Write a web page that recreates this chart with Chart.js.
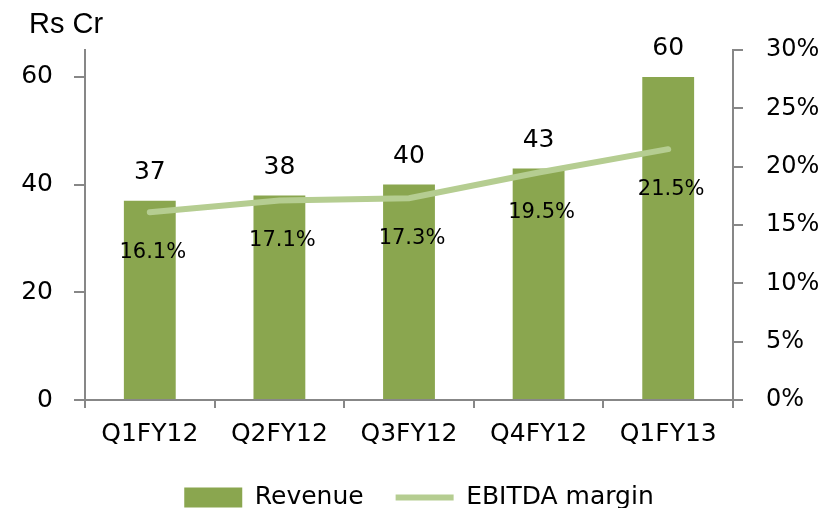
<!DOCTYPE html>
<html>
<head>
<meta charset="utf-8">
<script src="https://cdn.jsdelivr.net/npm/chart.js@4"></script>
<style>
  html, body { margin: 0; padding: 0; background: #fff; overflow: hidden; }
  #wrap { width: 838px; height: 508px; overflow: hidden; }
  #chart { display: block; }
</style>
</head>
<body>
<div id="wrap"><canvas id="chart" width="838" height="520"></canvas></div>
<script>
// data
const quarters = ['Q1FY12', 'Q2FY12', 'Q3FY12', 'Q4FY12', 'Q1FY13'];
const revenue = [37, 38, 40, 43, 60];          // Rs Cr
const ebitdaMargin = [16.1, 17.1, 17.3, 19.5, 21.5]; // %
const revenueTicks = [0, 20, 40, 60];

const BAR_COLOR = '#8AA64F';
const LINE_COLOR = '#B5CD91';
const AXIS_COLOR = '#878787';
const FONT = "'DejaVu Sans', Verdana, sans-serif";

// value labels: revenue above bars, margin below line points
const valueLabels = {
  id: 'valueLabels',
  afterDatasetsDraw(chart) {
    const ctx = chart.ctx;
    ctx.save();
    ctx.fillStyle = '#000';
    ctx.textAlign = 'center';
    ctx.textBaseline = 'middle';
    const bars = chart.getDatasetMeta(0).data;
    ctx.font = '25px ' + FONT;
    bars.forEach((el, i) => {
      ctx.fillText(String(revenue[i]), el.x, el.y - 28);
    });
    const pts = chart.getDatasetMeta(1).data;
    ctx.font = '21px ' + FONT;
    pts.forEach((el, i) => {
      ctx.fillText(ebitdaMargin[i].toFixed(1) + '%', el.x + 3, el.y + 40);
    });
    ctx.restore();
  }
};

// "Rs Cr" unit caption in the top-left corner
const unitCaption = {
  id: 'unitCaption',
  afterDraw(chart) {
    const ctx = chart.ctx;
    ctx.save();
    ctx.fillStyle = '#000';
    ctx.font = "29px 'Liberation Sans', Arial, sans-serif";
    ctx.textAlign = 'left';
    ctx.textBaseline = 'alphabetic';
    ctx.fillText('Rs Cr', 29, 33);
    ctx.restore();
  }
};

new Chart(document.getElementById('chart'), {
  data: {
    labels: quarters,
    datasets: [
      {
        type: 'bar',
        label: 'Revenue',
        data: revenue,
        yAxisID: 'y',
        backgroundColor: BAR_COLOR,
        borderWidth: 0,
        categoryPercentage: 1,
        barPercentage: 0.4,
        order: 2
      },
      {
        type: 'line',
        label: 'EBITDA margin',
        data: ebitdaMargin,
        yAxisID: 'y1',
        borderColor: LINE_COLOR,
        backgroundColor: LINE_COLOR,
        borderWidth: 6,
        borderCapStyle: 'round',
        pointRadius: 0,
        tension: 0,
        order: 1
      }
    ]
  },
  options: {
    responsive: false,
    animation: false,
    layout: { padding: { top: 50, left: 0, right: 0, bottom: 0 } },
    plugins: {
      tooltip: { enabled: false },
      legend: {
        position: 'bottom',
        labels: {
          color: '#000',
          font: { family: FONT, size: 25 },
          usePointStyle: true,
          pointStyleWidth: 58,
          boxWidth: 58,
          boxHeight: 20,
          padding: 32,
          generateLabels(chart) {
            return chart.data.datasets.map((ds, i) => ({
              text: ds.label,
              datasetIndex: i,
              fillStyle: ds.type === 'bar' ? BAR_COLOR : LINE_COLOR,
              strokeStyle: ds.type === 'bar' ? BAR_COLOR : LINE_COLOR,
              lineWidth: ds.type === 'bar' ? 0 : 6,
              pointStyle: ds.type === 'bar' ? 'rect' : 'line',
              fontColor: '#000'
            }));
          }
        }
      }
    },
    scales: {
      x: {
        grid: { offset: true, drawOnChartArea: false, drawTicks: true, tickLength: 8, color: AXIS_COLOR, lineWidth: 2 },
        border: { display: true, color: AXIS_COLOR, width: 2 },
        ticks: { color: '#000', font: { family: FONT, size: 25 }, padding: 11, maxRotation: 0 },
        afterFit(scale) { scale.height = 53; }
      },
      y: {
        position: 'left',
        min: 0,
        max: 65,
        grid: { drawOnChartArea: false, drawTicks: true, tickLength: 11, color: AXIS_COLOR, lineWidth: 2 },
        border: { display: true, color: AXIS_COLOR, width: 2 },
        ticks: { color: '#000', font: { family: FONT, size: 25 }, padding: 21 },
        afterBuildTicks(scale) { scale.ticks = revenueTicks.map(v => ({ value: v })); },
        afterFit(scale) { scale.width = 85; }
      },
      y1: {
        position: 'right',
        min: 0,
        max: 30,
        grid: { drawOnChartArea: false, drawTicks: true, tickLength: 10, color: AXIS_COLOR, lineWidth: 2 },
        border: { display: true, color: AXIS_COLOR, width: 2 },
        ticks: { color: '#000', font: { family: FONT, size: 24 }, padding: 23, stepSize: 5, callback: v => v + '%' },
        afterFit(scale) { scale.width = 105; }
      }
    }
  },
  plugins: [valueLabels, unitCaption]
});
</script>
</body>
</html>
